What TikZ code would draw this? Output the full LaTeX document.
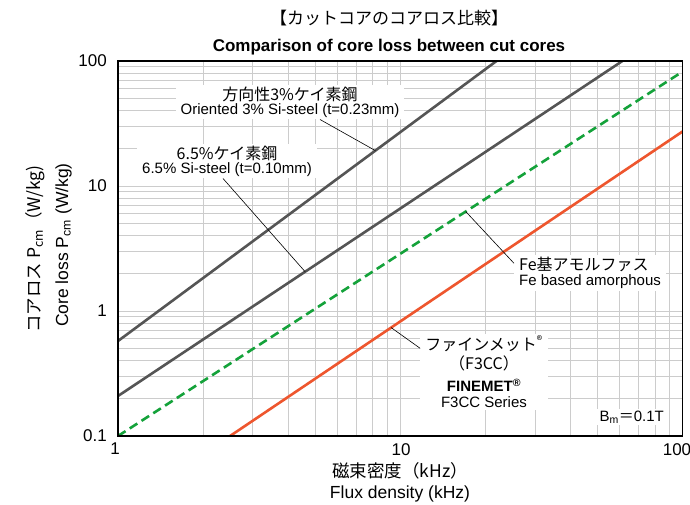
\documentclass[tikz,border=0pt]{standalone}
\usepackage{fontspec}
\setmainfont{Liberation Sans}
\newfontfamily\jp{Noto Sans CJK JP}
\usepackage{tikz}
\usetikzlibrary{calc}
\definecolor{steelgray}{RGB}{85,85,85}
\definecolor{amogreen}{RGB}{20,162,58}
\definecolor{fineorange}{RGB}{238,86,46}
\newcommand{\jplbl}{\jp\fontsize{16}{14}\selectfont}

\begin{document}
\begin{tikzpicture}[x=1pt,y=-1pt,every node/.style={inner sep=2pt},
	gridline/.style={black!20,line width=0.8pt},
	curve/.style={line width=2.6pt},
	leader/.style={line width=0.6pt},
	lbl/.style={fill=white,inner xsep=5pt,align=center,font=\fontsize{15}{14}\selectfont},
	tick/.style={font=\fontsize{17}{20}\selectfont},
	axtitle/.style={font=\fontsize{17.5}{20}\selectfont}]
	\path[use as bounding box,fill=white] (0,0) rectangle (690,504);

	\begin{scope}[shift={(118,436)},x=282.25pt,y=125pt]
		\foreach \d in {0,1}
			\foreach \k in {2,...,10}
				\draw[gridline] ({\d+log10(\k)},0) -- ({\d+log10(\k)},3);
		\foreach \d in {0,1,2}
			\foreach \k in {2,...,10}
				\draw[gridline] (0,{\d+log10(\k)}) -- (2,{\d+log10(\k)});
	\end{scope}

	\node[font=\jp\fontsize{17}{20}\selectfont,anchor=base] (title) at (389,24.5) {【カットコアのコアロス比較】};
	\node[font=\bfseries\fontsize{17}{20}\selectfont,anchor=base] (subtitle) at (389,51) {Comparison of core loss between cut cores};

	\node[lbl] (ori) at (290,102) {{\jplbl 方向性3\%ケイ素鋼}\\Oriented 3\% Si-steel (t=0.23mm)};
	\node[lbl] (si) at (227,161) {{\jplbl 6.5\%ケイ素鋼}\\6.5\% Si-steel (t=0.10mm)};
	\node[lbl,align=left,anchor=west] (amo) at (514,272.8) {{\jplbl Fe基アモルファス}\\[1.7pt]Fe based amorphous};
	\node[lbl] (fin) at (484,371.7) {{\jplbl ファインメット\textsuperscript{®}}\\[3pt]{\jplbl （F3CC）}\\[7pt]\textbf{FINEMET\textsuperscript{®}}\\[1.7pt]F3CC Series};
	\node[lbl,anchor=base east,inner xsep=3pt] (bm) at (667,421) {B\textsubscript{m}{\jp ＝}0.1T};

	\begin{scope}[shift={(118,436)},x=282.25pt,y=125pt]
		\begin{scope}
			\clip (0,0) rectangle (2,3);
			\draw[curve,steelgray] (0,0.76) -- coordinate[pos=0.68] (oriPt) (1.341,3);
			\draw[curve,steelgray] (0,0.32) -- coordinate[pos=0.371] (siPt) (1.787,3);
			\draw[curve,amogreen,dash pattern=on 9pt off 5pt] (0,0) -- coordinate[pos=0.616] (amoPt) (2,2.915);
			\draw[curve,fineorange] (0.397,0) -- coordinate[pos=0.356] (finPt) (2,2.436);
		\end{scope}
		\draw[line width=1.6pt] (0,0) rectangle (2,3);
	\end{scope}

	\draw[leader] ([xshift=30pt]ori.south) -- (oriPt);
	\draw[leader] ([xshift=-4pt]si.south) -- (siPt);
	\draw[leader] (amoPt) -- ([yshift=9.5pt]amo.west);
	\draw[leader] (finPt) -- ([yshift=23.4pt]fin.west);

	\foreach \v/\t in {0/0.1,1/1,2/10,3/100}
		\node[tick,anchor=east] (yt\v) at (109,{436-125*\v}) {\t};
	\foreach \x/\t in {115/1,401/10,677/100}
		\node[tick,anchor=north] (xt\t) at (\x,441) {\t};

	\node[axtitle,font=\jp\fontsize{17.5}{20}\selectfont,anchor=base] (xjp) at (400,477) {磁束密度（kHz）};
	\node[axtitle,anchor=base] (xen) at (400,498) {Flux density (kHz)};
	\node[axtitle,font=\jp\fontsize{17.5}{20}\selectfont,rotate=90] (yjp) at (35,249) {コアロス P\textsubscript{cm}（W/kg)};
	\node[axtitle,rotate=90] (yen) at (63.5,245) {Core loss P\textsubscript{cm} (W/kg)};
\end{tikzpicture}
\end{document}
